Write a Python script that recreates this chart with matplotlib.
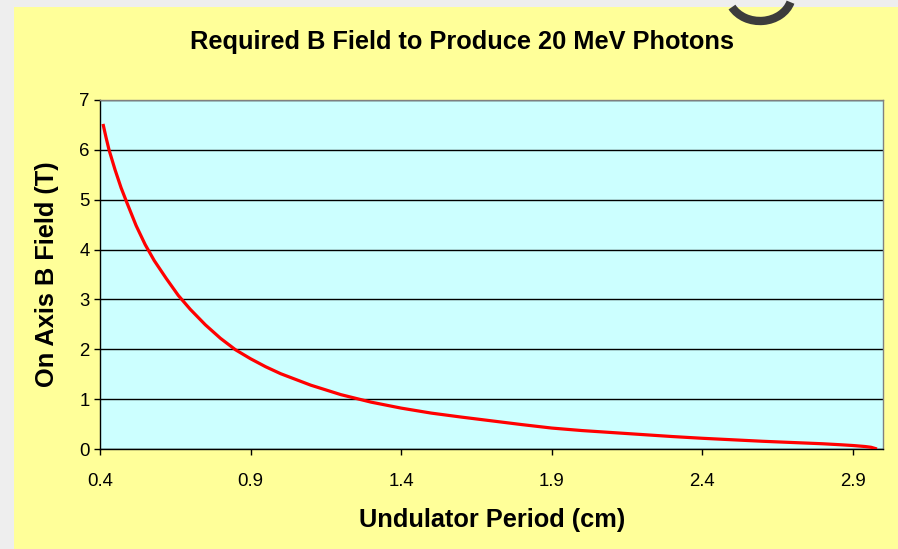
import matplotlib
matplotlib.use("Agg")
import matplotlib.pyplot as plt
from matplotlib.patches import Rectangle, Arc

plt.rcParams["font.family"] = ["Liberation Sans", "DejaVu Sans"]

# undulator period (cm) and the on-axis field (T) needed for 20 MeV photons
period_cm = [0.41, 0.42, 0.43, 0.45, 0.47, 0.49, 0.52, 0.55, 0.58, 0.62,
             0.66, 0.70, 0.75, 0.80, 0.85, 0.90, 0.95, 1.00, 1.10, 1.20,
             1.30, 1.40, 1.50, 1.60, 1.70, 1.80, 1.90, 2.00, 2.10, 2.20,
             2.30, 2.40, 2.50, 2.60, 2.70, 2.80, 2.86, 2.90, 2.94, 2.96,
             2.98]
b_field_t = [6.52, 6.25, 6.00, 5.60, 5.24, 4.93, 4.48, 4.10, 3.78, 3.42,
             3.08, 2.80, 2.49, 2.22, 1.99, 1.81, 1.65, 1.51, 1.28, 1.09,
             0.94, 0.82, 0.72, 0.64, 0.565, 0.49, 0.42, 0.37, 0.33, 0.29,
             0.25, 0.215, 0.185, 0.155, 0.13, 0.105, 0.085, 0.07, 0.05, 0.035,
             0.00]

x_ticks = [0.4, 0.9, 1.4, 1.9, 2.4, 2.9]
y_ticks = [0, 1, 2, 3, 4, 5, 6, 7]

W, H = 898, 549
fig = plt.figure(figsize=(W / 100, H / 100), dpi=100)
fig.patch.set_facecolor("#EEEEEE")

# background layer in pixel coordinates: slide panel + stray title glyph
bg = fig.add_axes([0, 0, 1, 1], zorder=-1)
bg.set_xlim(0, W)
bg.set_ylim(H, 0)
bg.axis("off")
bg.add_patch(Rectangle((14, 7), W - 14, H - 7, facecolor="#FFFF99",
                       edgecolor="none"))
bg.add_patch(Arc((760, -6), 64, 54, theta1=15, theta2=155,
                 color="#3C3C3C", linewidth=6))

ax = fig.add_axes([100 / W, 100 / H, 783 / W, 349 / H])
ax.set_facecolor("#CCFFFF")
ax.plot(period_cm, b_field_t, color="#FF0000", linewidth=2.3,
        solid_capstyle="butt", solid_joinstyle="round", zorder=3)

ax.set_xlim(0.4, 3.0)
ax.set_ylim(0, 7)
ax.set_xticks(x_ticks)
ax.set_xticklabels([f"{v:.1f}" for v in x_ticks])
ax.set_yticks(y_ticks)

ax.yaxis.grid(True, color="black", linewidth=1.0)
ax.xaxis.grid(False)
ax.set_axisbelow(True)

for side in ["top", "right"]:
    ax.spines[side].set_color("#808080")
    ax.spines[side].set_linewidth(1.0)
for side in ["left", "bottom"]:
    ax.spines[side].set_color("black")
    ax.spines[side].set_linewidth(1.0)

ax.tick_params(axis="x", direction="out", length=4.5, width=1,
               pad=13, labelsize=13.4)
ax.tick_params(axis="y", direction="out", length=4.5, width=1,
               pad=3, labelsize=13.4)

fig.text(462 / W, 1 - 42 / H, "Required B Field to Produce 20 MeV Photons",
         ha="center", va="center", fontsize=18.3, fontweight="bold")
fig.text(492 / W, 1 - 520 / H, "Undulator Period (cm)",
         ha="center", va="center", fontsize=18.3, fontweight="bold")
fig.text(47 / W, 1 - 274 / H, "On Axis B Field (T)", rotation=90,
         ha="center", va="center", fontsize=18.3, fontweight="bold")

fig.savefig("out.png", dpi=100, facecolor=fig.get_facecolor())
